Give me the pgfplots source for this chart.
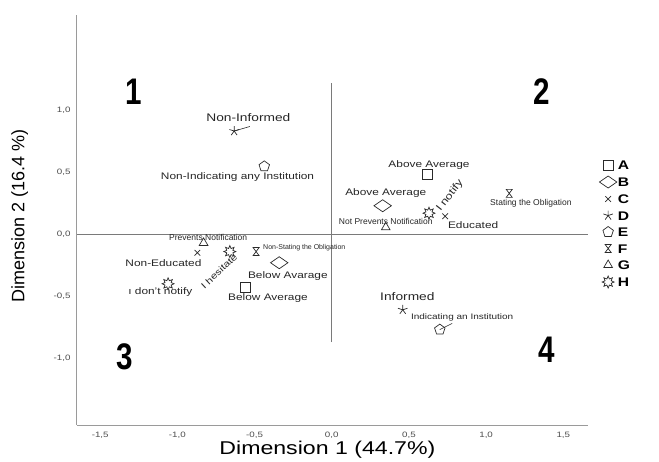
\documentclass[border=0pt]{standalone}
\usepackage{fontspec}
\setmainfont{Liberation Sans}[FakeStretch=1.25]
\newfontfamily\narrowfont{Liberation Sans}[FakeStretch=1.0]
\newfontfamily\quadfont{Liberation Sans Bold}[FakeStretch=0.8]
\usepackage{pgfplots}
\pgfplotsset{compat=1.18}
\definecolor{mk}{HTML}{2A2A2A}
\definecolor{axgray}{HTML}{9A9A9A}
\definecolor{refgray}{HTML}{7A7A7A}

\pgfdeclareplotmark{wdiamond}{%
  \pgfpathmoveto{\pgfqpoint{0pt}{\pgfplotmarksize}}%
  \pgfpathlineto{\pgfqpoint{1.45\pgfplotmarksize}{0pt}}%
  \pgfpathlineto{\pgfqpoint{0pt}{-\pgfplotmarksize}}%
  \pgfpathlineto{\pgfqpoint{-1.45\pgfplotmarksize}{0pt}}%
  \pgfpathclose\pgfusepathqfillstroke}
\pgfdeclareplotmark{hourglass}{%
  \pgfpathmoveto{\pgfqpoint{-0.75\pgfplotmarksize}{\pgfplotmarksize}}%
  \pgfpathlineto{\pgfqpoint{0.75\pgfplotmarksize}{\pgfplotmarksize}}%
  \pgfpathlineto{\pgfqpoint{-0.75\pgfplotmarksize}{-\pgfplotmarksize}}%
  \pgfpathlineto{\pgfqpoint{0.75\pgfplotmarksize}{-\pgfplotmarksize}}%
  \pgfpathclose\pgfusepathqstroke}
\newcommand\sunpt[2]{\pgfpathlineto{\pgfpointpolar{#1}{#2\pgfplotmarksize}}}
\pgfdeclareplotmark{sun}{%
  \pgfpathmoveto{\pgfpointpolar{0}{\pgfplotmarksize}}%
  \sunpt{22.5}{0.55}\sunpt{45}{1}\sunpt{67.5}{0.55}\sunpt{90}{1}%
  \sunpt{112.5}{0.55}\sunpt{135}{1}\sunpt{157.5}{0.55}\sunpt{180}{1}%
  \sunpt{202.5}{0.55}\sunpt{225}{1}\sunpt{247.5}{0.55}\sunpt{270}{1}%
  \sunpt{292.5}{0.55}\sunpt{315}{1}\sunpt{337.5}{0.55}%
  \pgfpathclose\pgfusepathqfillstroke}

\begin{document}
\begin{tikzpicture}[
  lbl/.style={font=\fontsize{9.5}{11}\selectfont, text=black!85, inner sep=0pt},
  lblbig/.style={font=\fontsize{11}{12}\selectfont, text=black!85, inner sep=0pt},
  sml/.style={font=\narrowfont\fontsize{8.5}{9}\selectfont, text=black!85, inner sep=0pt},
  quad/.style={font=\quadfont\fontsize{37}{37}\selectfont, text=black, inner sep=0pt},
]
\path[use as bounding box] (-77pt,-36pt) rectangle (582pt,425pt);
\begin{axis}[
  at={(0,0)}, anchor=south west,
  scale only axis, width=511pt, height=410pt,
  xmin=-1.65, xmax=1.66, ymin=-1.54, ymax=1.77,
  axis x line*=bottom, axis y line*=left,
  axis line style={draw=axgray, line width=1pt, -},
  xtick={-1.5,-1,-0.5,0,0.5,1,1.5},
  ytick={-1,-0.5,0,0.5,1},
  major tick length=0pt,
  tick label style={font=\fontsize{7.8}{8}\selectfont, text=black!70},
  xticklabel style={yshift=-4pt},
  yticklabel style={xshift=-3pt},
  /pgf/number format/fixed,
  /pgf/number format/fixed zerofill,
  /pgf/number format/precision=1,
  /pgf/number format/use comma,
  /pgf/number format/assume math mode=true,
  xlabel={Dimension 1 (44.7\%)},
  xlabel style={at={(axis description cs:0.49,-0.061)}, anchor=center, font=\fontsize{18.5}{20}\selectfont},
  ylabel={Dimension 2 (16.4 \%)},
  ylabel style={at={(axis description cs:-0.112,0.51)}, anchor=center, font=\narrowfont\fontsize{18}{20}\selectfont},
  legend style={at={(axis description cs:1.022,0.648)}, anchor=north west, draw=none, fill=none,
    font=\bfseries\fontsize{12.5}{13}\selectfont, row sep=5.5pt, inner sep=0pt,
    nodes={inner sep=1pt, text height=9pt, text depth=0pt},
    /tikz/every even column/.append style={column sep=2.5pt}},
  legend cell align=left,
  every axis plot/.append style={only marks, mark options={draw=mk, fill=white, line width=0.7pt}},
]
% reference lines
\addplot[sharp plot, no marks, draw=refgray, line width=0.8pt, forget plot] coordinates {(-1.65,0) (1.66,0)};
\addplot[sharp plot, no marks, draw=refgray, line width=0.8pt, forget plot] coordinates {(0,-0.87) (0,1.22)};

\addplot[mark=square, mark size=5pt] coordinates {(0.62,0.48) (-0.56,-0.43)};
\addlegendentry{A}
\addplot[mark=wdiamond, mark size=6pt] coordinates {(0.33,0.23) (-0.34,-0.23)};
\addlegendentry{B}
\addplot[mark=x, mark size=4pt] coordinates {(0.735,0.145) (-0.87,-0.15)};
\addlegendentry{C}
\addplot[mark=star, mark size=5pt] coordinates {(-0.632,0.833) (0.46,-0.61)};
\addlegendentry{D}
\addplot[mark=pentagon, mark size=5.5pt] coordinates {(-0.437,0.548) (0.70,-0.77)};
\addlegendentry{E}
\addplot[mark=hourglass, mark size=4pt] coordinates {(1.15,0.33) (-0.49,-0.14)};
\addlegendentry{F}
\addplot[mark=triangle, mark size=5pt] coordinates {(0.35,0.056) (-0.83,-0.07)};
\addlegendentry{G}
\addplot[mark=sun, mark size=6pt] coordinates {(0.63,0.17) (-0.66,-0.14) (-1.06,-0.40)};
\addlegendentry{H}

% leader lines
\draw[mk, line width=0.6pt] (axis cs:-0.632,0.833) -- (axis cs:-0.53,0.87);
\draw[mk, line width=0.6pt] (axis cs:0.70,-0.77) -- (axis cs:0.78,-0.72);

% point labels
\node[lblbig] at (axis cs:-0.54,0.94) {Non-Informed};
\node[lbl] at (axis cs:-0.61,0.46) {Non-Indicating any Institution};
\node[lbl] at (axis cs:0.63,0.56) {Above Average};
\node[lbl] at (axis cs:0.35,0.33) {Above Average};
\node[sml] at (axis cs:0.35,0.10) {Not Prevents Notification};
\node[lbl, font=\fontsize{10}{11}\selectfont, rotate=52] at (axis cs:0.765,0.31) {I notify};
\node[lbl] at (axis cs:0.916,0.073) {Educated};
\node[sml] at (axis cs:1.29,0.25) {Stating the Obligation};
\node[sml] at (axis cs:-0.80,-0.024) {Prevents Notification};
\node[lbl] at (axis cs:-1.09,-0.23) {Non-Educated};
\node[lbl, font=\fontsize{9}{10}\selectfont, rotate=43] at (axis cs:-0.73,-0.30) {I hesitate};
\node[sml, font=\narrowfont\fontsize{7}{8}\selectfont, anchor=west] at (axis cs:-0.445,-0.105) {Non-Stating the Obligation};
\node[lbl] at (axis cs:-0.284,-0.34) {Below Avarage};
\node[lbl] at (axis cs:-0.413,-0.516) {Below Average};
\node[lbl] at (axis cs:-1.11,-0.47) {ı don't notify};
\node[lblbig] at (axis cs:0.49,-0.50) {Informed};
\node[lbl, font=\fontsize{8}{9}\selectfont] at (axis cs:0.845,-0.67) {Indicating an Institution};

% quadrant numbers
\node[quad] at (axis cs:-1.28,1.15) {1};
\node[quad] at (axis cs:1.36,1.15) {2};
\node[quad] at (axis cs:-1.34,-0.99) {3};
\node[quad] at (axis cs:1.39,-0.93) {4};
\end{axis}
\end{tikzpicture}
\end{document}
